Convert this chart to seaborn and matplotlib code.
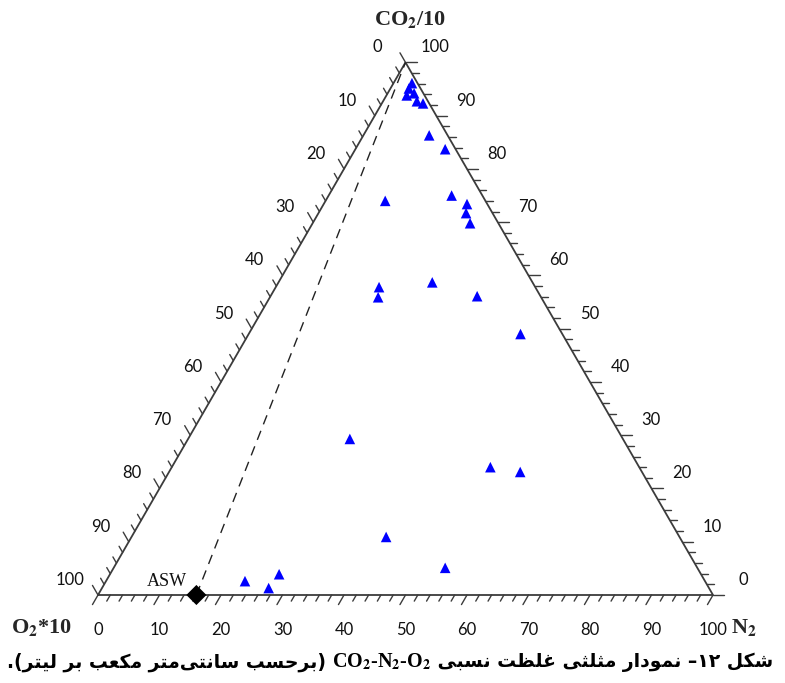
import re
import numpy as np
import pandas as pd
import matplotlib
matplotlib.use("Agg")
import matplotlib.pyplot as plt
import seaborn as sns
from matplotlib.offsetbox import TextArea, HPacker, AnnotationBbox

sns.set_theme(style="white")
plt.rcParams["font.family"] = ["Lato", "DejaVu Sans"]
plt.rcParams["mathtext.fontset"] = "stix"

# ---------------- data (CO2/10, N2, O2*10 in %) ----------------
co2 = [96.1, 95.1, 93.8, 94.2, 92.7, 92.3, 86.3, 83.7, 74.0, 75.0, 73.4, 71.7, 69.8,
       57.8, 55.9, 58.7, 56.1, 49.0, 24.0, 23.1, 29.3, 10.9, 2.6, 1.3, 3.9, 5.1]
n2 = [3.0, 3.0, 3.3, 4.3, 5.5, 6.7, 10.7, 14.6, 9.7, 20.0, 23.3, 24.0, 25.6,
      16.8, 17.6, 25.0, 33.6, 44.2, 51.8, 57.1, 26.3, 41.4, 22.6, 27.1, 27.5, 53.9]
o2 = [0.9, 1.9, 2.9, 1.5, 1.8, 1.0, 3.0, 1.7, 16.3, 5.0, 3.3, 4.3, 4.6,
      25.4, 26.5, 16.3, 10.3, 6.8, 24.2, 19.8, 44.4, 47.7, 74.8, 71.6, 68.6, 41.0]
asw_co2, asw_n2, asw_o2 = [0.0], [16.0], [84.0]
asw_label = "ASW"
tick_values = list(range(0, 101, 10))
minor_values = list(range(0, 101, 2))
title_top = "CO$_\\mathbf{2}$/10"
title_left = "O$_\\mathbf{2}$*10"
title_right = "N$_\\mathbf{2}$"
caption_runs = [("شکل ۱۲– نمودار مثلثی غلظت نسبی ", "fa"),
                ("CO$_\\mathbf{2}$-N$_\\mathbf{2}$-O$_\\mathbf{2}$", "lat"),
                (" (برحسب سانتی\u200cمتر مکعب بر لیتر).", "fa")]

S3 = np.sqrt(3) / 2


def tern(c, n, o):
    c, n, o = np.asarray(c, float), np.asarray(n, float), np.asarray(o, float)
    t = c + n + o
    return 100 * (n + c / 2) / t, 100 * c * S3 / t


# ---------------- minimal Persian shaping ----------------
FORMS = {
    "\u0627": ("\uFE8D", "\uFE8E", None, None),
    "\u062F": ("\uFEA9", "\uFEAA", None, None),
    "\u0631": ("\uFEAD", "\uFEAE", None, None),
    "\u0648": ("\uFEED", "\uFEEE", None, None),
    "\u0628": ("\uFE8F", "\uFE90", "\uFE91", "\uFE92"),
    "\u062A": ("\uFE95", "\uFE96", "\uFE97", "\uFE98"),
    "\u062B": ("\uFE99", "\uFE9A", "\uFE9B", "\uFE9C"),
    "\u062D": ("\uFEA1", "\uFEA2", "\uFEA3", "\uFEA4"),
    "\u0633": ("\uFEB1", "\uFEB2", "\uFEB3", "\uFEB4"),
    "\u0634": ("\uFEB5", "\uFEB6", "\uFEB7", "\uFEB8"),
    "\u0638": ("\uFEC5", "\uFEC6", "\uFEC7", "\uFEC8"),
    "\u0639": ("\uFEC9", "\uFECA", "\uFECB", "\uFECC"),
    "\u063A": ("\uFECD", "\uFECE", "\uFECF", "\uFED0"),
    "\u0644": ("\uFEDD", "\uFEDE", "\uFEDF", "\uFEE0"),
    "\u0645": ("\uFEE1", "\uFEE2", "\uFEE3", "\uFEE4"),
    "\u0646": ("\uFEE5", "\uFEE6", "\uFEE7", "\uFEE8"),
    "\u06A9": ("\uFB8E", "\uFB8F", "\uFB90", "\uFB91"),
    "\u06CC": ("\uFBFC", "\uFBFD", "\uFBFE", "\uFBFF"),
}


def shape(s):
    out = []
    for i, ch in enumerate(s):
        if ch not in FORMS:
            out.append(ch)
            continue
        prev = s[i - 1] if i > 0 else None
        nxt = s[i + 1] if i < len(s) - 1 else None
        jp = prev in FORMS and FORMS[prev][2] is not None
        jn = FORMS[ch][2] is not None and nxt in FORMS
        iso, fin, ini, med = FORMS[ch]
        out.append(med if (jp and jn) else fin if jp else ini if jn else iso)
    return "".join(out).replace("\u200c", "")


def visual_fa(s):
    toks = re.findall(r"[0-9\u06F0-\u06F9]+|.", shape(s), flags=re.S)
    mirror = {"(": ")", ")": "("}
    return "".join(mirror.get(t, t) for t in reversed(toks))


# ---------------- figure ----------------
W, H = 785, 683
PX = 6.15  # pixels per data unit
fig = plt.figure(figsize=(W / 100, H / 100), dpi=100)
ax = fig.add_axes([0, 0, 1, 1])
ax.set_xlim(-98 / PX, (W - 98) / PX)
ax.set_ylim((595 - H) / PX, 595 / PX)
ax.axis("off")

edge = "#3c3c3c"
ax.plot([0, 100, 50, 0], [0, 0, 100 * S3, 0], color=edge, lw=1.3, solid_joinstyle="miter", zorder=2)

# ticks
for v in minor_values:
    L = 1.8 if v % 10 == 0 else 1.15
    # bottom (N2)
    bx, by = v, 0
    ax.plot([bx, bx - 0.5 * L], [by, by - S3 * L], color=edge, lw=1.0)
    # right (CO2)
    rx, ry = 100 - v / 2, v * S3
    ax.plot([rx, rx + L], [ry, ry], color=edge, lw=1.0)
    # left (O2)
    lx, ly = (100 - v) / 2, (100 - v) * S3
    ax.plot([lx, lx - 0.5 * L], [ly, ly + S3 * L], color=edge, lw=1.0)

tfs = 12
for v in tick_values:
    ax.text(v, -35 / PX, str(v), ha="center", va="center", fontsize=tfs, color="#111111")
    ax.text(100 - v / 2 + 30 / PX, v * S3 + 15 / PX, str(v), ha="center", va="center",
            fontsize=tfs, color="#111111")
    ax.text((100 - v) / 2 - 28 / PX, (100 - v) * S3 + 15 / PX, str(v), ha="center",
            va="center", fontsize=tfs, color="#111111")

# dashed mixing line ASW -> CO2 apex
ax_x, ax_y = tern(asw_co2, asw_n2, asw_o2)
top_x, top_y = tern([100], [0], [0])
ax.plot([ax_x[0], top_x[0]], [ax_y[0], top_y[0]], color="#222222", lw=1.0,
        dashes=(7, 5), zorder=2)

# data points
X, Y = tern(co2, n2, o2)
df = pd.DataFrame({"X": X, "Y": Y})
sns.scatterplot(data=df, x="X", y="Y", marker="^", color="#0000ff", s=58,
                edgecolor="none", linewidth=0, ax=ax, legend=False, zorder=4)
dfa = pd.DataFrame({"X": ax_x, "Y": ax_y})
sns.scatterplot(data=dfa, x="X", y="Y", marker="D", color="black", s=105,
                edgecolor="none", linewidth=0, ax=ax, legend=False, zorder=5)
ax.text(ax_x[0] - 9 / PX, ax_y[0] + 13 / PX, asw_label, ha="right", va="center",
        fontsize=13, family=["Liberation Serif", "DejaVu Serif"], color="#111111")
ax.set_xlabel("")
ax.set_ylabel("")
ax.set_xlim(-98 / PX, (W - 98) / PX)
ax.set_ylim((595 - H) / PX, 595 / PX)

# axis titles
serif = ["Liberation Serif", "DejaVu Serif"]
fig.text(410 / W, 1 - 20 / H, title_top, ha="center", va="center", fontsize=16,
         fontweight="bold", family=serif)
fig.text(42 / W, 1 - 627 / H, title_left, ha="center", va="center", fontsize=16,
         fontweight="bold", family=serif)
fig.text(744 / W, 1 - 628 / H, title_right, ha="center", va="center", fontsize=16,
         fontweight="bold", family=serif)

# caption (right-to-left)
children = []
for text, kind in reversed(caption_runs):
    if kind == "fa":
        children.append(TextArea(visual_fa(text), textprops=dict(
            fontsize=13.5, fontweight="bold", family=["DejaVu Sans"], color="black")))
    else:
        children.append(TextArea(text, textprops=dict(
            fontsize=14.5, fontweight="bold", family=serif, color="black")))
pack = HPacker(children=children, align="baseline", pad=0, sep=0)
ab = AnnotationBbox(pack, (390 / W, 1 - 662 / H), xycoords="figure fraction",
                    box_alignment=(0.5, 0.5), frameon=False)
fig.add_artist(ab)

fig.savefig("out.png", dpi=100, facecolor="white")
